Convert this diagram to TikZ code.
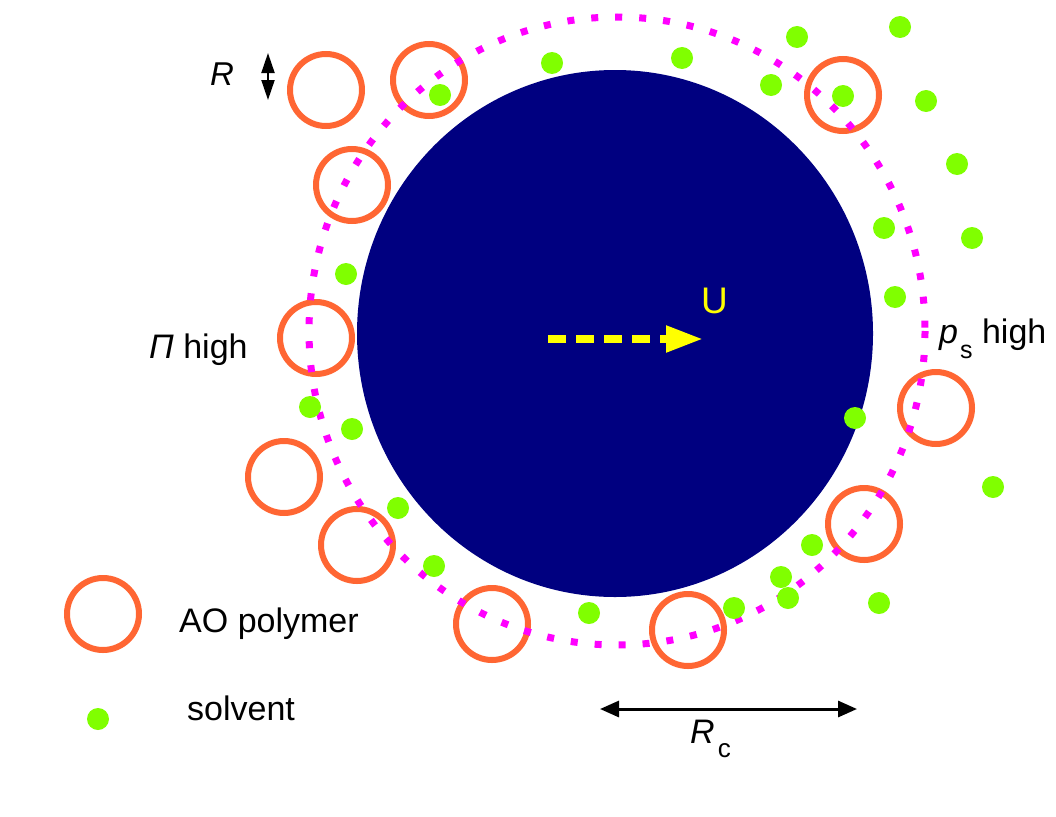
\documentclass[tikz,border=0pt]{standalone}
\usepackage{fontspec}
\setmainfont{Liberation Sans}
\usetikzlibrary{arrows.meta}
\definecolor{bodynavy}{HTML}{000080}
\definecolor{aoorange}{HTML}{FF6633}
\definecolor{solvgreen}{HTML}{80FF00}
\definecolor{dotmag}{HTML}{FF00FF}
\definecolor{uyellow}{HTML}{FFFF00}
\tikzset{
  polymer/.style={circle, draw=aoorange, line width=6pt, minimum size=72pt, inner sep=0pt},
  solv/.style={circle, fill=solvgreen, minimum size=22pt, inner sep=0pt},
  lbl/.style={anchor=base west, inner sep=0pt, font=\fontsize{34}{40}\selectfont},
}
\begin{document}
\begin{tikzpicture}[x=1pt,y=-1pt]
\useasboundingbox (0,0) rectangle (1056,816);
% colloid
\fill[bodynavy] (615,333.5) ellipse [x radius=258, y radius=263.5];
% polymers
\foreach \n/\x/\y in {p1/326/90, p2/429/80, p3/352/185, p4/843/95, p5/316/338, p6/284/477,
  p7/357/545, p8/492/624, p9/688/630, p10/864/524, p11/936/408, pleg/103/614}
  \node[polymer] (\n) at (\x,\y) {};
% depletion layer
\draw[dotmag, line width=7pt, dash pattern=on 7pt off 17pt] (617,331) ellipse [x radius=308, y radius=314];
% solvent
\foreach \n/\x/\y in {s1/552/63, s2/682/58, s3/797/37, s4/900/27, s5/440/95, s6/771/85,
  s7/843/96, s8/926/101, s9/957/164, s10/884/228, s11/972/238, s12/346/274, s13/895/297,
  s14/310/407, s15/352/429, s16/855/418, s17/993/487, s18/398/508, s19/434/566,
  s20/812/545, s21/781/577, s22/788/598, s23/734/608, s24/879/603, s25/589/613, sleg/98/719}
  \node[solv] (\n) at (\x,\y) {};
% velocity arrow
\coordinate (u0) at (548,339);
\coordinate (u1) at (703,339);
\draw[uyellow, line width=8pt, dash pattern=on 18pt off 10pt,
  -{Triangle[length=37pt,width=25pt]}] (u0) -- (u1);
\node[lbl, text=uyellow, font=\fontsize{37}{42}\selectfont] (ulab) at (701,313) {U};
% labels
\node[lbl] (pilab) at (149,358) {\textit{Π} high};
\node[lbl] (pslab) at (939,343) {\textit{p}\kern2pt\raisebox{-15pt}{\fontsize{25}{28}\selectfont s} high};
\node[lbl] (aolab) at (179,632) {AO polymer};
\node[lbl] (svlab) at (187,720) {solvent};
% R arrow
\coordinate (r0) at (268,53);
\coordinate (r1) at (268,100);
\draw[line width=2pt, {Triangle[length=20pt,width=13pt]}-{Triangle[length=20pt,width=13pt]}] (r0) -- (r1);
\node[lbl, font=\fontsize{33}{38}\selectfont\itshape] (rlab) at (210,85) {R};
% Rc arrow
\coordinate (c0) at (600,709);
\coordinate (c1) at (857,709);
\draw[line width=3pt, {Triangle[length=19pt,width=16pt]}-{Triangle[length=19pt,width=16pt]}] (c0) -- (c1);
\node[lbl] (rclab) at (690,743) {\textit{R}\kern3pt\raisebox{-14pt}{\fontsize{26}{30}\selectfont c}};
\end{tikzpicture}
\end{document}
